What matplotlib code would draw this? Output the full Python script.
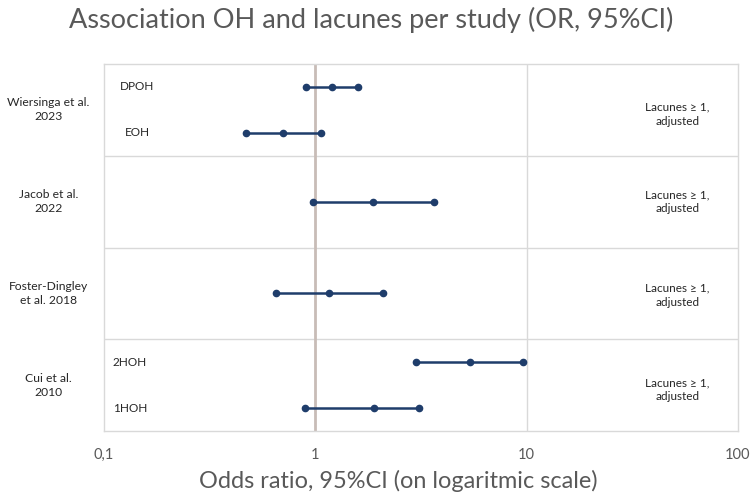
import matplotlib
matplotlib.use("Agg")
import matplotlib.pyplot as plt
import numpy as np

# Data
studies = ["Wiersinga et al.\n2023", "Jacob et al.\n2022", "Foster-Dingley\net al. 2018", "Cui et al.\n2010"]
outcomes = ["DPOH", "EOH", "", "", "2HOH", "1HOH"]
row_y = [3.75, 3.25, 2.5, 1.5, 0.75, 0.25]
or_mid = [1.20, 0.70, 1.88, 1.165, 5.37, 1.89]
ci_low = [0.90, 0.47, 0.97, 0.65, 3.01, 0.89]
ci_high = [1.60, 1.06, 3.64, 2.08, 9.64, 3.09]
study_y = [3.5, 2.5, 1.5, 0.5]
right_labels = ["Lacunes ≥ 1,\nadjusted"] * 4
right_y = [3.45, 2.5, 1.48, 0.45]
xticks = [0.1, 1, 10, 100]
xtick_labels = ["0,1", "1", "10", "100"]

plt.rcParams['font.family'] = ['Lato', 'DejaVu Sans']

fig = plt.figure(figsize=(7.55, 4.99), dpi=100)
ax = fig.add_axes([104/755, 1-431/499, (738-104)/755, (431-64)/499])

navy = "#1f3d6b"
grid_c = "#d9d9d9"
txt_c = "#595959"

ax.set_xscale("log")
ax.set_xlim(0.1, 100)
ax.set_ylim(0, 4)

for yb in [1, 2, 3]:
    ax.axhline(yb, color=grid_c, lw=1, zorder=1)
ax.axvline(10, color=grid_c, lw=1, zorder=1)
ax.axvline(1, color="#c8bcb7", lw=2, zorder=1)

for y, lo, m, hi in zip(row_y, ci_low, or_mid, ci_high):
    ax.plot([lo, m, hi], [y, y, y], color=navy, lw=1.8, marker="o", ms=4.5, zorder=3)

for spine in ax.spines.values():
    spine.set_color(grid_c)
    spine.set_linewidth(1)

ax.set_xticks(xticks)
ax.set_xticklabels(xtick_labels)
ax.xaxis.set_minor_locator(matplotlib.ticker.NullLocator())
ax.tick_params(axis="x", length=0, pad=12, labelsize=10.5, labelcolor=txt_c)
ax.set_yticks([])

# outcome labels
out_x = [0.025, 0.033, 0, 0, 0.014, 0.014]
for lab, y, xx in zip(outcomes, row_y, out_x):
    if lab:
        ax.text(xx, y / 4, lab, transform=ax.transAxes, ha="left", va="center",
                fontsize=8.5, color="#262626")

for lab, y in zip(studies, study_y):
    ax.text(-0.088, y / 4, lab, transform=ax.transAxes, ha="center", va="center",
            fontsize=8.7, color="#262626", linespacing=1.35)

for lab, y in zip(right_labels, right_y):
    ax.text(0.904, y / 4, lab, transform=ax.transAxes, ha="center", va="center",
            fontsize=8.5, color="#262626", linespacing=1.35)

fig.text(371/755, 1-20/499, "Association OH and lacunes per study (OR, 95%CI)",
         ha="center", va="center", fontsize=19.5, color=txt_c)
fig.text(398/755, 1-481/499, "Odds ratio, 95%CI (on logaritmic scale)",
         ha="center", va="center", fontsize=16.9, color=txt_c)

fig.savefig("out.png", dpi=100)
